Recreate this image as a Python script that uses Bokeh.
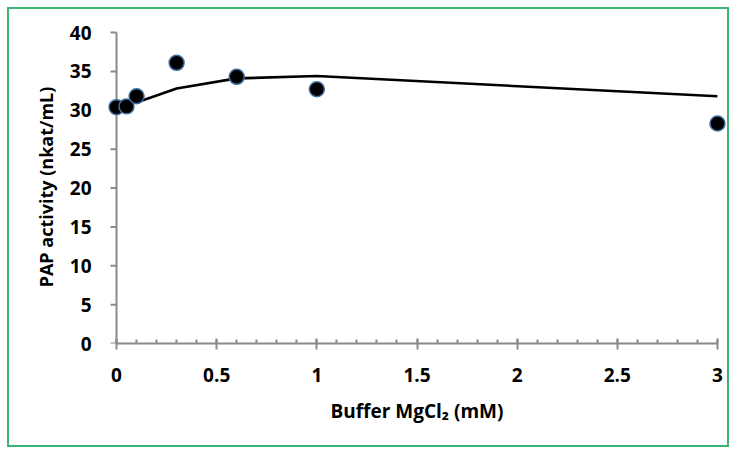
from bokeh.plotting import figure
from bokeh.models import Range1d, SingleIntervalTicker
from bokeh.embed import file_html
from bokeh.resources import INLINE

# data
mgcl2 = [0, 0.05, 0.1, 0.3, 0.6, 1.0, 3.0]
activity = [30.4, 30.5, 31.8, 36.1, 34.3, 32.7, 28.3]
fit_x = [0.1, 0.3, 0.6, 1.0, 3.0]
fit_y = [31.0, 32.8, 34.1, 34.4, 31.8]
y_ticks = [0, 5, 10, 15, 20, 25, 30, 35, 40]

FONT = "Open Sans"
AX = "#8a8a8a"

p = figure(width=722, height=440, output_backend="svg", toolbar_location=None,
           x_range=Range1d(-0.06, 3.06), y_range=Range1d(0, 40.26),
           min_border_left=95, min_border_right=2, min_border_top=21, min_border_bottom=106)
p.styles = {"margin-left": "7px", "margin-top": "7px", "border": "2px solid #3cb371"}
p.outline_line_color = None
p.grid.visible = False
p.background_fill_color = "white"
p.border_fill_color = "white"

# y axis line and ticks drawn at x = 0 (inside the frame so markers at x=0 stay whole)
tick_len = 6 / 200.3
p.segment(x0=[0], y0=[y_ticks[0]], x1=[0], y1=[y_ticks[-1]], line_color=AX, line_width=2)
p.segment(x0=[-tick_len] * len(y_ticks), y0=y_ticks, x1=[0] * len(y_ticks), y1=y_ticks,
          line_color=AX, line_width=2)

p.line(fit_x, fit_y, line_color="black", line_width=2.6)
p.scatter(mgcl2, activity, size=15, fill_color="black", line_color="#3f6fa0", line_width=1.5)

xa = p.xaxis[0]
xa.ticker = SingleIntervalTicker(interval=0.5, num_minor_ticks=5)
xa.bounds = (0, 3)
xa.axis_label = "Buffer MgCl₂ (mM)"
xa.major_tick_in = 5
xa.major_tick_out = 6
xa.minor_tick_in = 4
xa.minor_tick_out = 0
xa.axis_line_color = AX
xa.axis_line_width = 2
xa.major_tick_line_color = AX
xa.major_tick_line_width = 2
xa.minor_tick_line_color = AX
xa.minor_tick_line_width = 2

ya = p.yaxis[0]
ya.ticker = SingleIntervalTicker(interval=5, num_minor_ticks=0)
ya.axis_label = "PAP activity (nkat/mL)"
ya.axis_line_color = None
ya.major_tick_line_color = None
ya.minor_tick_line_color = None
ya.major_tick_in = 0
ya.major_tick_out = 0

for a in (xa, ya):
    a.major_label_text_font = FONT
    a.major_label_text_font_style = "bold"
    a.major_label_text_font_size = "19px"
    a.major_label_text_color = "black"
    a.axis_label_text_font = FONT
    a.axis_label_text_font_style = "bold"
    a.axis_label_text_color = "black"

xa.axis_label_text_font_size = "19px"
ya.axis_label_text_font_size = "18px"
xa.major_label_standoff = 18
xa.axis_label_standoff = 13
ya.major_label_standoff = 13
ya.axis_label_standoff = 9

open("out.html", "w").write(file_html(p, INLINE))
